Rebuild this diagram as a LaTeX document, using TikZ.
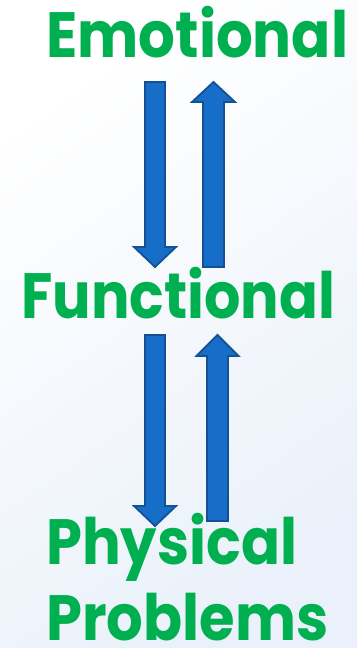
\documentclass[tikz,border=0pt]{standalone}
\usepackage{graphicx}
\usepackage{fontspec}
\setmainfont{Poppins}[BoldFont={* Bold}]
\definecolor{lblgreen}{RGB}{0,176,80}
\definecolor{arrfill}{RGB}{22,110,200}
\definecolor{arrline}{RGB}{20,80,148}
\definecolor{bgblue}{RGB}{234,241,250}
\newcommand{\downblock}[6]{% xc, ytop, ybase, ytip, shafthalf, headhalf
  \draw[blockarrow] (#1-#5,#2) -- (#1+#5,#2) -- (#1+#5,#3) -- (#1+#6,#3) -- (#1,#4) -- (#1-#6,#3) -- (#1-#5,#3) -- cycle;}
\newcommand{\fitto}[2]{\resizebox{#1}{\height}{#2}}
\begin{document}
\begin{tikzpicture}[x=1pt,y=-1pt,
  lbl/.style={text=lblgreen, font=\bfseries\fontsize{64}{64}\selectfont, inner sep=0pt, anchor=base west},
  blockarrow/.style={fill=arrfill, draw=arrline, line width=1.8pt, line join=miter}]
\useasboundingbox (0,0) rectangle (357,648);
\shade[shading=axis, top color=white, bottom color=bgblue, shading angle=35] (0,0) rectangle (357,648);
\node[lbl] (emo) at (46,57) {\fitto{302pt}{Emotional}};
\node[lbl] (fun) at (21,318) {\fitto{314pt}{Functional}};
\node[lbl] (phy) at (46,564) {\fitto{251pt}{Physical}};
\node[lbl] (pro) at (46,640) {\fitto{282pt}{Problems}};
\downblock{155}{82}{247}{267}{10}{21}
\downblock{213.5}{267}{102}{82}{10.5}{21.5}
\downblock{155}{335}{506}{526}{10}{21}
\downblock{217.5}{521}{356}{335}{10.5}{21}
\end{tikzpicture}
\end{document}
